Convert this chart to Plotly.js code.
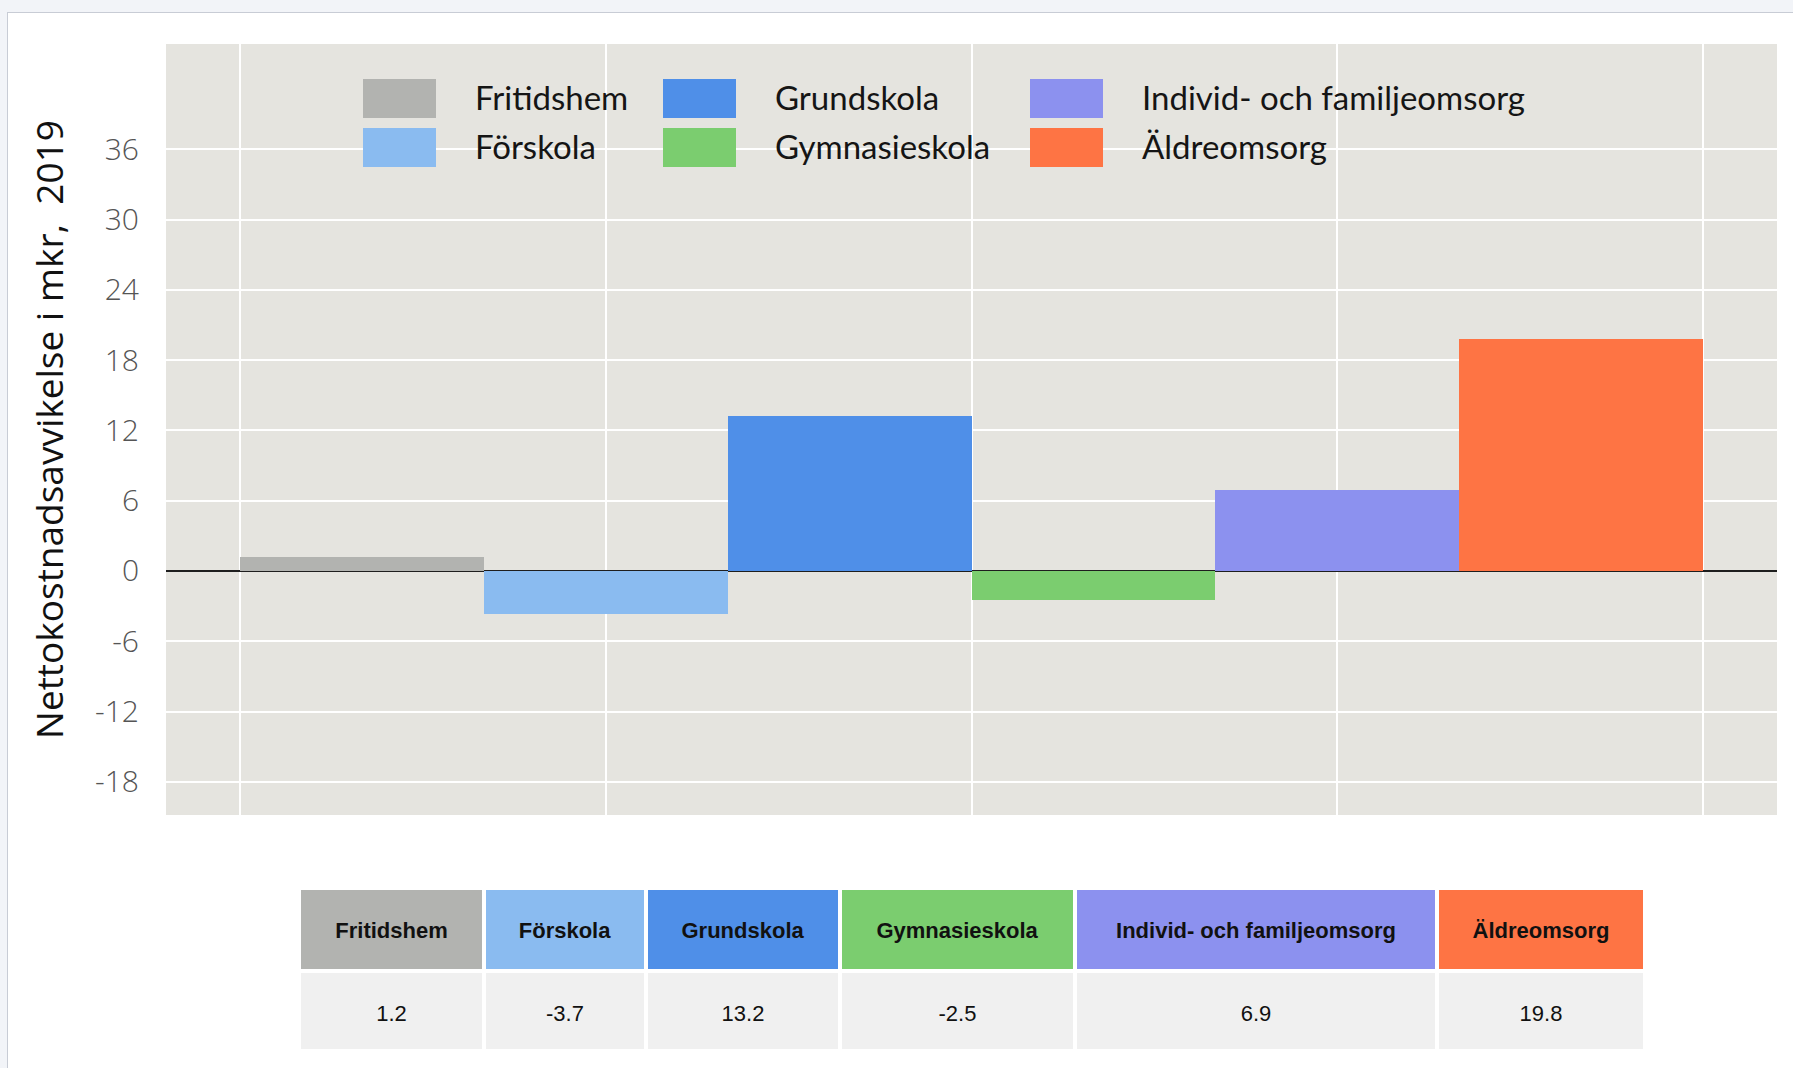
<!DOCTYPE html>
<html>
<head>
<meta charset="utf-8">
<script src="https://cdn.plot.ly/plotly-3.0.1.min.js"></script>
<style>
  html, body { margin: 0; padding: 0; width: 1793px; height: 1068px; overflow: hidden; background: #f2f4f8; }
  #card { position: absolute; left: 7px; top: 12px; width: 1800px; height: 1070px; background: #ffffff; border: 1px solid #c8ccd5; }
  #chart { position: absolute; left: 0; top: 0; width: 1793px; height: 1068px; }
</style>
</head>
<body>
<div id="card"></div>
<div id="chart"></div>
<script>
// ---- data ----
const categories = ['Fritidshem', 'Förskola', 'Grundskola', 'Gymnasieskola', 'Individ- och familjeomsorg', 'Äldreomsorg'];
const values = [1.2, -3.7, 13.2, -2.5, 6.9, 19.8];
const colors = ['#b2b3b0', '#8abbf0', '#4f8fe8', '#7bcd6f', '#8c91ef', '#fe7444'];
const yTicks = [-18, -12, -6, 0, 6, 12, 18, 24, 30, 36];
const yTitle = 'Nettokostnadsavvikelse i mkr, \u00a02019';
const legendColumns = [[0, 1], [2, 3], [4, 5]];

// ---- layout geometry (pixels) ----
const W = 1793, H = 1068;
const fx = px => px / W;
const fy = py => 1 - py / H;
const plot = { left: 166, right: 1777, top: 44, bottom: 815 };
const leg = { colX: [363, 663, 1030], rowY: [79, 128], sw: 73, sh: 39, textDx: 110 };
const tbl = { left: 299, right: 1645, top: 888, colW: [185, 162, 194, 235, 362, 208] };
const padLine = '<span style="font-size:14px">\u00a0</span><br>'; // spacer line to push cell text towards the vertical middle

// bars positioned on a continuous x scale (each category occupies one unit)
const xPos = categories.map((c, i) => i + 0.5);

const bars = {
  type: 'bar',
  x: xPos,
  y: values,
  width: categories.map(() => 1),
  marker: { color: colors, line: { width: 0 } },
  text: categories,
  hoverinfo: 'skip',
  textposition: 'none',
  showlegend: false,
  xaxis: 'x', yaxis: 'y'
};

const table = {
  type: 'table',
  domain: { x: [fx(tbl.left), fx(tbl.right)], y: [0, fy(tbl.top)] },
  columnwidth: tbl.colW,
  header: {
    values: categories.map(c => padLine + c),
    fill: { color: colors },
    line: { color: '#ffffff', width: 4 },
    align: 'center',
    height: 83,
    font: { family: 'Liberation Sans, Arial, sans-serif', size: 22, color: '#111111', weight: 'bold' }
  },
  cells: {
    values: values.map(v => [padLine + v.toFixed(1)]),
    fill: { color: '#f0f0f0' },
    line: { color: '#ffffff', width: 4 },
    align: 'center',
    height: 80,
    font: { family: 'Liberation Sans, Arial, sans-serif', size: 22, color: '#111111' }
  }
};

// custom legend built from the category / colour arrays
const shapes = [];
const annotations = [];
legendColumns.forEach((col, ci) => {
  col.forEach((idx, ri) => {
    const x0 = leg.colX[ci], y0 = leg.rowY[ri];
    shapes.push({
      type: 'rect', xref: 'paper', yref: 'paper',
      x0: fx(x0), x1: fx(x0 + leg.sw), y0: fy(y0 + leg.sh), y1: fy(y0),
      fillcolor: colors[idx], line: { width: 0 }, layer: 'above'
    });
    annotations.push({
      xref: 'paper', yref: 'paper',
      x: fx(x0 + leg.textDx), y: fy(y0 + leg.sh / 2 - 1.5),
      xanchor: 'left', yanchor: 'middle',
      text: categories[idx], showarrow: false,
      font: { family: 'Lato, sans-serif', size: 33, color: '#151515' }
    });
  });
});

const layout = {
  width: W, height: H,
  margin: { l: 0, r: 0, t: 0, b: 0, pad: 0 },
  paper_bgcolor: 'rgba(0,0,0,0)',
  plot_bgcolor: '#e5e4df',
  showlegend: false,
  bargap: 0,
  xaxis: {
    domain: [fx(plot.left), fx(plot.right)],
    range: [-0.305, 6.305],
    tickmode: 'array',
    tickvals: [0, 1.5, 3, 4.5, 6],
    showticklabels: false,
    ticks: '',
    showgrid: true, gridcolor: '#ffffff', gridwidth: 2,
    zeroline: false, showline: false,
    automargin: false, fixedrange: true
  },
  yaxis: {
    domain: [fy(plot.bottom), fy(plot.top)],
    range: [-20.83, 44.98],
    tickmode: 'array',
    tickvals: yTicks,
    ticktext: yTicks.map(String),
    ticks: '',
    ticklabelstandoff: 26,
    tickfont: { family: 'Open Sans, sans-serif', size: 30, color: '#555555', weight: 300 },
    showgrid: true, gridcolor: '#ffffff', gridwidth: 2,
    zeroline: true, zerolinecolor: '#1e1e1e', zerolinewidth: 2,
    showline: false,
    automargin: false, fixedrange: true,
    title: {
      text: yTitle,
      standoff: 20,
      font: { family: 'Open Sans, sans-serif', size: 37, color: '#111111' }
    }
  },
  shapes: shapes,
  annotations: annotations
};

Plotly.newPlot('chart', [bars, table], layout, { staticPlot: true, displayModeBar: false });
</script>
</body>
</html>
